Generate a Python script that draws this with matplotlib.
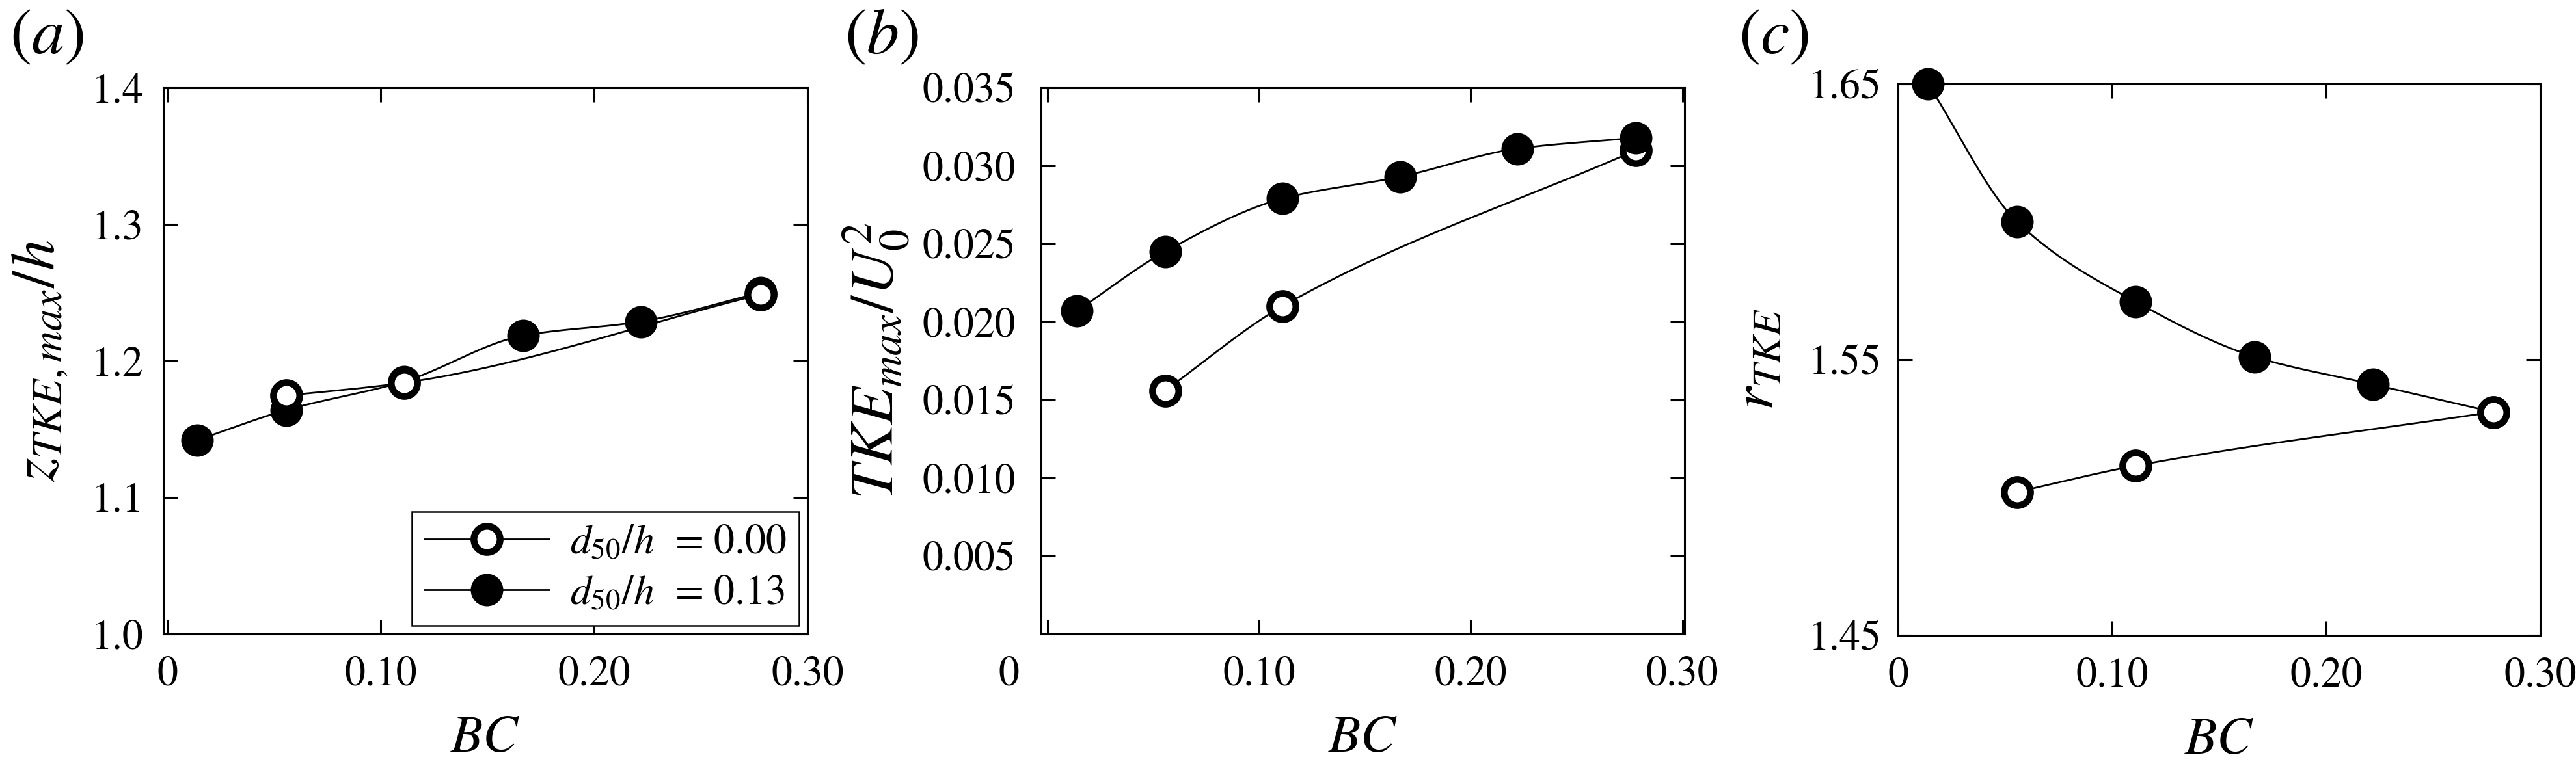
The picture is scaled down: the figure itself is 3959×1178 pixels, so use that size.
import numpy as np
import matplotlib
matplotlib.use("Agg")
import matplotlib.pyplot as plt
from matplotlib.lines import Line2D
from matplotlib.transforms import ScaledTranslation

# ---------------- data ----------------
bc_filled = [0.014, 0.0556, 0.111, 0.1667, 0.222, 0.278]
bc_open = [0.0556, 0.111, 0.278]

z_filled = [1.142, 1.164, 1.185, 1.2185, 1.2288, 1.250]
z_open = [1.1746, 1.184, 1.2487]

tke_filled = [0.0207, 0.0245, 0.0279, 0.0293, 0.0311, 0.0318]
tke_open = [0.0156, 0.0210, 0.0310]

r_filled = [1.650, 1.600, 1.571, 1.551, 1.541, 1.531]
r_open = [1.502, 1.5115, 1.531]

xticks = [0, 0.10, 0.20, 0.30]
xticklabels = ["0", "0.10", "0.20", "0.30"]
yticks_a = [1.0, 1.1, 1.2, 1.3, 1.4]
yticklabels_a = ["1.0", "1.1", "1.2", "1.3", "1.4"]
yticks_b = [0.005, 0.010, 0.015, 0.020, 0.025, 0.030, 0.035]
yticklabels_b = ["0.005", "0.010", "0.015", "0.020", "0.025", "0.030", "0.035"]
yticks_c = [1.45, 1.55, 1.65]
yticklabels_c = ["1.45", "1.55", "1.65"]
legend_labels = [r"$d_{50}/h$  = 0.00", r"$d_{50}/h$  = 0.13"]

# ---------------- style ----------------
plt.rcParams.update({
    "font.family": ["STIXGeneral", "Liberation Serif", "DejaVu Serif"],
    "mathtext.fontset": "stix",
    "axes.linewidth": 2.2,
})

TICK_FS = 46
XLABEL_FS = 58
PANEL_FS = 72
MS_F = 36
MS_O = 29
MEW_O = 7.5
LW = 2.0


def hermite_curve(x, y, n=300):
    x = np.asarray(x, float)
    y = np.asarray(y, float)
    h = np.diff(x)
    d = np.diff(y) / h
    m = np.zeros_like(y)
    for k in range(1, len(x) - 1):
        if d[k - 1] * d[k] <= 0:
            m[k] = 0.0
        else:
            w1 = 2 * h[k] + h[k - 1]
            w2 = h[k] + 2 * h[k - 1]
            m[k] = (w1 + w2) / (w1 / d[k - 1] + w2 / d[k])
    m[0] = d[0]
    m[-1] = d[-1]
    xs = np.linspace(x[0], x[-1], n)
    idx = np.clip(np.searchsorted(x, xs) - 1, 0, len(x) - 2)
    t = (xs - x[idx]) / h[idx]
    h00 = 2 * t**3 - 3 * t**2 + 1
    h10 = t**3 - 2 * t**2 + t
    h01 = -2 * t**3 + 3 * t**2
    h11 = t**3 - t**2
    ys = h00 * y[idx] + h10 * h[idx] * m[idx] + h01 * y[idx + 1] + h11 * h[idx] * m[idx + 1]
    return xs, ys


fig = plt.figure(figsize=(39.59, 11.78), dpi=100)

W, H = 3959.0, 1178.0
boxes = [
    (251, 135, 1241, 975),
    (1600, 135, 2589, 975),
    (2917, 129, 3904, 977),
]
axes = []
for (l, t, r, b) in boxes:
    axes.append(fig.add_axes([l / W, 1 - b / H, (r - l) / W, (b - t) / H]))


def draw(ax, yf, yo, open_on_top):
    zf = 3 if not open_on_top else 2
    zo = 4 if open_on_top else 2
    xs, ys = hermite_curve(bc_filled, yf)
    ax.plot(xs, ys, color="k", lw=LW, zorder=zf, clip_on=False)
    xs, ys = hermite_curve(bc_open, yo)
    ax.plot(xs, ys, color="k", lw=LW, zorder=zo, clip_on=False)
    ax.plot(bc_filled, yf, "o", ms=MS_F, mfc="k", mec="k", mew=0,
            zorder=zf + 0.5, clip_on=False)
    ax.plot(bc_open, yo, "o", ms=MS_O, mfc="white", mec="k", mew=MEW_O,
            zorder=zo + 0.5, clip_on=False)


def style(ax, yticks, ylabels, ylim, xlim, ypad):
    ax.set_xlim(*xlim)
    ax.set_ylim(*ylim)
    ax.set_xticks(xticks)
    ax.set_xticklabels(xticklabels)
    ax.set_yticks(yticks)
    ax.set_yticklabels(ylabels)
    ax.tick_params(axis="both", which="both", direction="in", length=16,
                   width=2.2, top=True, right=True, labelsize=TICK_FS)
    ax.tick_params(axis="x", pad=24)
    ax.tick_params(axis="y", pad=ypad)
    ax.set_xlabel(r"$BC$", fontsize=XLABEL_FS)
    ax.xaxis.set_label_coords(0.5, -0.15)


ax = axes[0]
draw(ax, z_filled, z_open, open_on_top=True)
style(ax, yticks_a, yticklabels_a, (1.0, 1.4), (-0.002, 0.2995), 22)
ax.set_ylabel(r"$z_{TKE,max}/h$", fontsize=68)
ax.yaxis.set_label_coords(-0.145, 0.5)
handles = [
    Line2D([], [], color="k", lw=LW, marker="o", ms=MS_O, mfc="white",
           mec="k", mew=MEW_O),
    Line2D([], [], color="k", lw=LW, marker="o", ms=MS_F, mfc="k",
           mec="k", mew=0),
]
leg = ax.legend(handles, legend_labels, loc="lower right", fontsize=TICK_FS,
                frameon=True, fancybox=False, framealpha=1, edgecolor="k",
                handlelength=3.0, handletextpad=0.5, borderpad=0.3,
                labelspacing=0.3, borderaxespad=0.2, numpoints=1)
leg.get_frame().set_linewidth(1.8)

ax = axes[1]
draw(ax, tke_filled, tke_open, open_on_top=False)
style(ax, yticks_b, yticklabels_b, (0.0, 0.035), (-0.003, 0.301), 28)
ax.set_ylabel(r"$TKE_{max}/U_0^2$", fontsize=68)
ax.yaxis.set_label_coords(-0.20, 0.5)
# the "0" label of panel (b) sits left of the axis in the reference
t0 = ax.xaxis.get_major_ticks()[0]
t0.label1.set_transform(t0.label1.get_transform()
                        + ScaledTranslation(-0.59, 0, fig.dpi_scale_trans))

ax = axes[2]
draw(ax, r_filled, r_open, open_on_top=True)
style(ax, yticks_c, yticklabels_c, (1.45, 1.65), (0.0, 0.2977), 18)
ax.set_ylabel(r"$r_{TKE}$", fontsize=66)
ax.yaxis.set_label_coords(-0.175, 0.5)

for xpix, lab in [(15, "(a)"), (1298, "(b)"), (2672, "(c)")]:
    fig.text(xpix / W, 1 - 14 / H, "(" + r"$" + lab[1] + r"$" + ")",
             fontsize=PANEL_FS, ha="left", va="top")

fig.savefig("out.png", dpi=100)
